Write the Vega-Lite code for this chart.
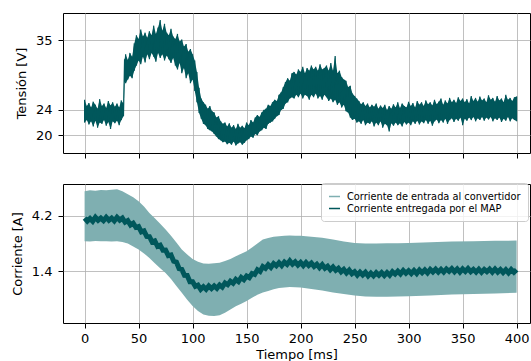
{
"$schema": "https://vega.github.io/schema/vega-lite/v6.json",
"padding": {"left": 10, "top": 12, "right": 0, "bottom": 0},
"spacing": 24,
"config": {
  "font": "DejaVu Sans",
  "view": {"stroke": "black", "strokeWidth": 1},
  "axis": {"grid": true, "gridColor": "#b0b0b0", "gridWidth": 0.8, "domain": false, "tickColor": "black", "tickSize": 5, "tickWidth": 1, "labelFontSize": 13, "titleFontSize": 13, "titleFontWeight": "normal", "labelColor": "black", "titleColor": "black", "labelFont": "DejaVu Sans", "titleFont": "DejaVu Sans"},
  "axisY": {"labelPadding": 6, "titlePadding": 7},
  "axisX": {"labelPadding": 4, "titlePadding": 3}
},
"datasets": {
  "v": [
    {"t":0,"hi":25.6,"lo":22.0},{"t":2,"hi":24.6,"lo":22.4},{"t":4,"hi":25.1,"lo":21.7},{"t":6,"hi":24.4,"lo":22.2},{"t":8,"hi":25.3,"lo":21.4},{"t":10,"hi":24.8,"lo":22.3},{"t":12,"hi":24.2,"lo":21.2},{"t":14,"hi":25.7,"lo":22.0},{"t":16,"hi":24.6,"lo":21.8},{"t":18,"hi":25.0,"lo":22.4},{"t":20,"hi":24.3,"lo":21.5},{"t":22,"hi":25.4,"lo":22.1},{"t":24,"hi":24.7,"lo":21.0},{"t":26,"hi":25.2,"lo":22.2},{"t":28,"hi":24.5,"lo":21.9},{"t":30,"hi":25.0,"lo":22.3},{"t":32,"hi":24.4,"lo":21.6},{"t":34,"hi":25.5,"lo":22.4},{"t":36,"hi":25.0,"lo":23.0},{"t":37,"hi":32.0,"lo":28.5},{"t":38,"hi":32.8,"lo":28.2},{"t":40,"hi":31.9,"lo":28.8},{"t":42,"hi":33.0,"lo":29.4},{"t":44,"hi":32.4,"lo":29.0},{"t":46,"hi":34.5,"lo":30.2},{"t":48,"hi":35.8,"lo":31.0},{"t":50,"hi":35.2,"lo":31.8},{"t":52,"hi":36.7,"lo":31.2},{"t":54,"hi":35.6,"lo":32.4},{"t":56,"hi":36.2,"lo":31.5},{"t":58,"hi":35.4,"lo":32.8},{"t":60,"hi":36.4,"lo":32.0},{"t":62,"hi":35.8,"lo":33.0},{"t":64,"hi":37.3,"lo":32.4},{"t":66,"hi":36.0,"lo":31.6},{"t":68,"hi":37.0,"lo":33.0},{"t":70,"hi":38.2,"lo":32.2},{"t":72,"hi":36.5,"lo":32.8},{"t":74,"hi":37.6,"lo":31.8},{"t":76,"hi":36.2,"lo":32.6},{"t":78,"hi":35.8,"lo":32.0},{"t":80,"hi":36.8,"lo":31.4},{"t":82,"hi":35.6,"lo":32.2},{"t":84,"hi":35.2,"lo":31.0},{"t":86,"hi":36.0,"lo":30.4},{"t":88,"hi":34.8,"lo":31.4},{"t":90,"hi":35.1,"lo":29.8},{"t":92,"hi":34.0,"lo":30.6},{"t":94,"hi":34.4,"lo":29.0},{"t":96,"hi":33.2,"lo":29.8},{"t":98,"hi":33.6,"lo":28.2},{"t":100,"hi":32.8,"lo":28.8},{"t":102,"hi":31.8,"lo":27.0},{"t":104,"hi":30.0,"lo":25.2},{"t":106,"hi":27.5,"lo":23.5},{"t":108,"hi":25.8,"lo":22.6},{"t":110,"hi":25.2,"lo":21.8},{"t":112,"hi":24.8,"lo":21.6},{"t":114,"hi":24.2,"lo":21.0},{"t":116,"hi":24.6,"lo":20.8},{"t":118,"hi":23.8,"lo":20.6},{"t":120,"hi":23.6,"lo":20.2},{"t":122,"hi":22.8,"lo":19.8},{"t":124,"hi":23.0,"lo":19.4},{"t":126,"hi":22.2,"lo":19.2},{"t":128,"hi":21.8,"lo":18.9},{"t":130,"hi":22.0,"lo":19.0},{"t":132,"hi":21.4,"lo":18.6},{"t":134,"hi":21.9,"lo":18.8},{"t":136,"hi":21.2,"lo":18.5},{"t":138,"hi":21.6,"lo":19.0},{"t":140,"hi":21.0,"lo":18.4},{"t":142,"hi":21.8,"lo":18.7},{"t":144,"hi":21.2,"lo":18.9},{"t":146,"hi":21.5,"lo":18.5},{"t":148,"hi":21.1,"lo":18.8},{"t":150,"hi":22.0,"lo":19.2},{"t":152,"hi":21.6,"lo":19.4},{"t":154,"hi":22.4,"lo":19.8},{"t":156,"hi":22.0,"lo":19.6},{"t":158,"hi":22.8,"lo":20.2},{"t":160,"hi":23.2,"lo":20.0},{"t":162,"hi":22.9,"lo":20.6},{"t":164,"hi":23.6,"lo":20.8},{"t":166,"hi":24.0,"lo":21.2},{"t":168,"hi":24.2,"lo":21.0},{"t":170,"hi":24.8,"lo":21.8},{"t":172,"hi":24.6,"lo":22.0},{"t":174,"hi":25.2,"lo":22.2},{"t":176,"hi":25.6,"lo":22.6},{"t":178,"hi":25.4,"lo":23.0},{"t":180,"hi":26.4,"lo":23.2},{"t":182,"hi":26.8,"lo":24.0},{"t":184,"hi":27.6,"lo":24.2},{"t":186,"hi":28.4,"lo":25.0},{"t":188,"hi":29.0,"lo":25.2},{"t":190,"hi":28.6,"lo":25.8},{"t":192,"hi":29.8,"lo":26.0},{"t":194,"hi":30.0,"lo":25.8},{"t":196,"hi":29.6,"lo":26.4},{"t":198,"hi":30.4,"lo":26.0},{"t":200,"hi":30.0,"lo":26.6},{"t":202,"hi":30.8,"lo":25.8},{"t":204,"hi":29.8,"lo":26.4},{"t":206,"hi":30.6,"lo":26.2},{"t":208,"hi":30.2,"lo":25.6},{"t":210,"hi":31.0,"lo":26.4},{"t":212,"hi":30.4,"lo":26.0},{"t":214,"hi":30.8,"lo":26.6},{"t":216,"hi":30.2,"lo":25.8},{"t":218,"hi":31.2,"lo":26.2},{"t":220,"hi":30.4,"lo":25.6},{"t":222,"hi":30.6,"lo":26.4},{"t":224,"hi":31.0,"lo":26.0},{"t":226,"hi":30.2,"lo":25.4},{"t":228,"hi":31.4,"lo":25.8},{"t":230,"hi":30.2,"lo":25.2},{"t":232,"hi":32.5,"lo":25.6},{"t":234,"hi":29.8,"lo":24.8},{"t":236,"hi":30.2,"lo":25.2},{"t":238,"hi":29.2,"lo":24.4},{"t":240,"hi":28.8,"lo":24.8},{"t":242,"hi":28.6,"lo":23.8},{"t":244,"hi":27.6,"lo":23.6},{"t":246,"hi":27.8,"lo":22.8},{"t":248,"hi":26.6,"lo":22.4},{"t":250,"hi":26.2,"lo":22.6},{"t":252,"hi":25.8,"lo":22.0},{"t":254,"hi":25.4,"lo":22.2},{"t":256,"hi":24.9,"lo":21.8},{"t":258,"hi":25.2,"lo":22.4},{"t":260,"hi":24.6,"lo":21.6},{"t":262,"hi":25.0,"lo":22.0},{"t":264,"hi":24.4,"lo":21.8},{"t":266,"hi":24.8,"lo":22.2},{"t":268,"hi":24.5,"lo":21.4},{"t":270,"hi":25.0,"lo":22.0},{"t":272,"hi":24.2,"lo":21.6},{"t":274,"hi":24.7,"lo":22.2},{"t":276,"hi":24.3,"lo":21.2},{"t":278,"hi":24.8,"lo":21.8},{"t":280,"hi":24.0,"lo":21.6},{"t":282,"hi":24.6,"lo":20.6},{"t":284,"hi":24.2,"lo":21.9},{"t":286,"hi":24.9,"lo":21.5},{"t":288,"hi":24.4,"lo":22.0},{"t":290,"hi":25.2,"lo":21.6},{"t":292,"hi":24.3,"lo":21.9},{"t":294,"hi":25.0,"lo":21.4},{"t":296,"hi":24.6,"lo":22.1},{"t":298,"hi":24.4,"lo":21.7},{"t":300,"hi":25.3,"lo":22.0},{"t":302,"hi":24.6,"lo":21.6},{"t":304,"hi":25.1,"lo":22.2},{"t":306,"hi":24.4,"lo":21.8},{"t":308,"hi":25.4,"lo":22.3},{"t":310,"hi":24.8,"lo":21.7},{"t":312,"hi":25.2,"lo":22.2},{"t":314,"hi":24.6,"lo":21.9},{"t":316,"hi":25.5,"lo":22.4},{"t":318,"hi":24.9,"lo":21.8},{"t":320,"hi":25.2,"lo":22.3},{"t":322,"hi":24.7,"lo":21.5},{"t":324,"hi":25.6,"lo":22.2},{"t":326,"hi":24.9,"lo":22.5},{"t":328,"hi":25.3,"lo":21.9},{"t":330,"hi":25.8,"lo":22.4},{"t":332,"hi":24.8,"lo":22.0},{"t":334,"hi":25.5,"lo":22.6},{"t":336,"hi":25.0,"lo":21.8},{"t":338,"hi":25.9,"lo":22.4},{"t":340,"hi":25.2,"lo":22.7},{"t":342,"hi":25.6,"lo":22.1},{"t":344,"hi":25.1,"lo":22.6},{"t":346,"hi":26.0,"lo":22.3},{"t":348,"hi":25.4,"lo":22.8},{"t":350,"hi":25.8,"lo":21.6},{"t":352,"hi":25.2,"lo":22.6},{"t":354,"hi":25.7,"lo":22.3},{"t":356,"hi":25.0,"lo":22.8},{"t":358,"hi":26.2,"lo":22.4},{"t":360,"hi":25.4,"lo":22.9},{"t":362,"hi":25.9,"lo":22.2},{"t":364,"hi":25.3,"lo":22.7},{"t":366,"hi":26.1,"lo":22.4},{"t":368,"hi":25.5,"lo":22.9},{"t":370,"hi":25.8,"lo":22.3},{"t":372,"hi":25.2,"lo":22.8},{"t":374,"hi":26.3,"lo":22.5},{"t":376,"hi":25.6,"lo":22.9},{"t":378,"hi":25.9,"lo":22.2},{"t":380,"hi":25.3,"lo":22.7},{"t":382,"hi":26.2,"lo":22.4},{"t":384,"hi":25.5,"lo":22.8},{"t":386,"hi":25.8,"lo":22.1},{"t":388,"hi":25.2,"lo":22.6},{"t":390,"hi":26.4,"lo":22.3},{"t":392,"hi":25.6,"lo":22.9},{"t":394,"hi":25.9,"lo":22.2},{"t":396,"hi":25.4,"lo":22.7},{"t":398,"hi":26.0,"lo":22.4},{"t":400,"hi":26.1,"lo":22.2}
  ],
  "band": [
    {"t":0,"top":5.45,"bot":2.92},{"t":5,"top":5.50,"bot":2.90},{"t":10,"top":5.48,"bot":2.93},{"t":15,"top":5.52,"bot":2.91},{"t":20,"top":5.50,"bot":2.92},{"t":25,"top":5.53,"bot":2.90},{"t":30,"top":5.55,"bot":2.92},{"t":35,"top":5.45,"bot":2.88},{"t":40,"top":5.30,"bot":2.80},{"t":45,"top":5.15,"bot":2.65},{"t":50,"top":4.94,"bot":2.50},{"t":55,"top":4.68,"bot":2.30},{"t":60,"top":4.35,"bot":2.07},{"t":65,"top":4.08,"bot":1.80},{"t":70,"top":3.80,"bot":1.55},{"t":75,"top":3.51,"bot":1.31},{"t":80,"top":3.20,"bot":1.00},{"t":85,"top":2.85,"bot":0.65},{"t":90,"top":2.50,"bot":0.30},{"t":95,"top":2.25,"bot":-0.05},{"t":100,"top":2.02,"bot":-0.37},{"t":105,"top":1.88,"bot":-0.62},{"t":110,"top":1.79,"bot":-0.80},{"t":115,"top":1.78,"bot":-0.86},{"t":120,"top":1.80,"bot":-0.88},{"t":125,"top":1.82,"bot":-0.84},{"t":130,"top":1.92,"bot":-0.71},{"t":135,"top":2.02,"bot":-0.55},{"t":140,"top":2.16,"bot":-0.38},{"t":145,"top":2.28,"bot":-0.25},{"t":150,"top":2.41,"bot":-0.12},{"t":155,"top":2.60,"bot":0.05},{"t":160,"top":2.80,"bot":0.20},{"t":165,"top":3.00,"bot":0.32},{"t":170,"top":3.08,"bot":0.39},{"t":175,"top":3.14,"bot":0.48},{"t":180,"top":3.17,"bot":0.54},{"t":185,"top":3.20,"bot":0.57},{"t":190,"top":3.21,"bot":0.59},{"t":195,"top":3.20,"bot":0.58},{"t":200,"top":3.20,"bot":0.57},{"t":210,"top":3.15,"bot":0.50},{"t":220,"top":3.09,"bot":0.42},{"t":230,"top":3.00,"bot":0.32},{"t":240,"top":2.90,"bot":0.24},{"t":250,"top":2.83,"bot":0.17},{"t":260,"top":2.80,"bot":0.12},{"t":270,"top":2.80,"bot":0.10},{"t":280,"top":2.81,"bot":0.10},{"t":290,"top":2.82,"bot":0.12},{"t":300,"top":2.83,"bot":0.13},{"t":320,"top":2.86,"bot":0.17},{"t":340,"top":2.90,"bot":0.21},{"t":360,"top":2.92,"bot":0.24},{"t":380,"top":2.94,"bot":0.27},{"t":400,"top":2.95,"bot":0.30}
  ],
  "map": [
    {"t":0,"i":4.09},{"t":2.5,"i":3.94},{"t":5,"i":4.07},{"t":7.5,"i":3.93},{"t":10,"i":4.13},{"t":12.5,"i":3.98},{"t":15,"i":4.09},{"t":17.5,"i":3.96},{"t":20,"i":4.13},{"t":22.5,"i":3.98},{"t":25,"i":4.09},{"t":27.5,"i":3.95},{"t":30,"i":4.13},{"t":32.5,"i":3.99},{"t":35,"i":4.09},{"t":37.5,"i":3.88},{"t":40,"i":3.96},{"t":42.5,"i":3.74},{"t":45,"i":3.83},{"t":47.5,"i":3.62},{"t":50,"i":3.66},{"t":52.5,"i":3.39},{"t":55,"i":3.44},{"t":57.5,"i":3.16},{"t":60,"i":3.15},{"t":62.5,"i":2.88},{"t":65,"i":2.93},{"t":67.5,"i":2.66},{"t":70,"i":2.72},{"t":72.5,"i":2.46},{"t":75,"i":2.47},{"t":77.5,"i":2.19},{"t":80,"i":2.22},{"t":82.5,"i":1.90},{"t":85,"i":1.86},{"t":87.5,"i":1.53},{"t":90,"i":1.49},{"t":92.5,"i":1.19},{"t":95,"i":1.18},{"t":97.5,"i":0.86},{"t":100,"i":0.86},{"t":102.5,"i":0.63},{"t":105,"i":0.69},{"t":107.5,"i":0.48},{"t":110,"i":0.61},{"t":112.5,"i":0.48},{"t":115,"i":0.65},{"t":117.5,"i":0.52},{"t":120,"i":0.65},{"t":122.5,"i":0.53},{"t":125,"i":0.70},{"t":127.5,"i":0.59},{"t":130,"i":0.80},{"t":132.5,"i":0.71},{"t":135,"i":0.89},{"t":137.5,"i":0.79},{"t":140,"i":0.98},{"t":142.5,"i":0.87},{"t":145,"i":1.08},{"t":147.5,"i":0.97},{"t":150,"i":1.15},{"t":152.5,"i":1.07},{"t":155,"i":1.28},{"t":157.5,"i":1.23},{"t":160,"i":1.47},{"t":162.5,"i":1.38},{"t":165,"i":1.63},{"t":167.5,"i":1.54},{"t":170,"i":1.72},{"t":172.5,"i":1.59},{"t":175,"i":1.78},{"t":177.5,"i":1.67},{"t":180,"i":1.83},{"t":182.5,"i":1.68},{"t":185,"i":1.86},{"t":187.5,"i":1.74},{"t":190,"i":1.92},{"t":192.5,"i":1.75},{"t":195,"i":1.87},{"t":197.5,"i":1.71},{"t":200,"i":1.84},{"t":202.5,"i":1.68},{"t":205,"i":1.84},{"t":207.5,"i":1.69},{"t":210,"i":1.81},{"t":212.5,"i":1.64},{"t":215,"i":1.75},{"t":217.5,"i":1.58},{"t":220,"i":1.73},{"t":222.5,"i":1.55},{"t":225,"i":1.65},{"t":227.5,"i":1.47},{"t":230,"i":1.61},{"t":232.5,"i":1.44},{"t":235,"i":1.55},{"t":237.5,"i":1.37},{"t":240,"i":1.49},{"t":242.5,"i":1.31},{"t":245,"i":1.45},{"t":247.5,"i":1.27},{"t":250,"i":1.37},{"t":252.5,"i":1.20},{"t":255,"i":1.35},{"t":257.5,"i":1.21},{"t":260,"i":1.34},{"t":262.5,"i":1.16},{"t":265,"i":1.30},{"t":267.5,"i":1.16},{"t":270,"i":1.32},{"t":272.5,"i":1.19},{"t":275,"i":1.33},{"t":277.5,"i":1.18},{"t":280,"i":1.33},{"t":282.5,"i":1.19},{"t":285,"i":1.37},{"t":287.5,"i":1.25},{"t":290,"i":1.40},{"t":292.5,"i":1.26},{"t":295,"i":1.43},{"t":297.5,"i":1.29},{"t":300,"i":1.42},{"t":302.5,"i":1.28},{"t":305,"i":1.43},{"t":307.5,"i":1.28},{"t":310,"i":1.46},{"t":312.5,"i":1.32},{"t":315,"i":1.46},{"t":317.5,"i":1.31},{"t":320,"i":1.49},{"t":322.5,"i":1.36},{"t":325,"i":1.50},{"t":327.5,"i":1.35},{"t":330,"i":1.49},{"t":332.5,"i":1.35},{"t":335,"i":1.51},{"t":337.5,"i":1.39},{"t":340,"i":1.53},{"t":342.5,"i":1.37},{"t":345,"i":1.51},{"t":347.5,"i":1.35},{"t":350,"i":1.51},{"t":352.5,"i":1.38},{"t":355,"i":1.53},{"t":357.5,"i":1.37},{"t":360,"i":1.49},{"t":362.5,"i":1.35},{"t":365,"i":1.50},{"t":367.5,"i":1.34},{"t":370,"i":1.49},{"t":372.5,"i":1.37},{"t":375,"i":1.50},{"t":377.5,"i":1.35},{"t":380,"i":1.51},{"t":382.5,"i":1.35},{"t":385,"i":1.48},{"t":387.5,"i":1.33},{"t":390,"i":1.47},{"t":392.5,"i":1.31},{"t":395,"i":1.48},{"t":397.5,"i":1.34},{"t":400,"i":1.47}
  ]
},
"vconcat": [
  {
    "width": 467, "height": 140,
    "data": {"name": "v"},
    "layer": [
      {
        "mark": {"type": "area", "color": "#00575b", "opacity": 1},
        "encoding": {
          "x": {"field": "t", "type": "quantitative", "scale": {"domain": [-20, 412.4], "nice": false, "zero": false}, "axis": {"values": [0,50,100,150,200,250,300,350,400], "labels": false, "title": null}},
          "y": {"field": "hi", "type": "quantitative", "scale": {"domain": [17.2, 39.3], "nice": false, "zero": false}, "axis": {"values": [20,24,35], "title": "Tensión [V]"}},
          "y2": {"field": "lo"}
        }
      },
      {
        "transform": [{"fold": ["hi", "lo"], "as": ["edge", "volt"]}],
        "mark": {"type": "line", "color": "#00575b", "strokeWidth": 1.2},
        "encoding": {
          "x": {"field": "t", "type": "quantitative"},
          "y": {"field": "volt", "type": "quantitative"}
        }
      }
    ]
  },
  {
    "width": 467, "height": 139,
    "layer": [
      {
        "data": {"name": "band"},
        "mark": {"type": "area", "color": "#7fafb1"},
        "encoding": {
          "x": {"field": "t", "type": "quantitative", "scale": {"domain": [-20, 412.4], "nice": false, "zero": false}, "axis": {"values": [0,50,100,150,200,250,300,350,400], "title": "Tiempo [ms]"}},
          "y": {"field": "top", "type": "quantitative", "scale": {"domain": [-1.23, 5.82], "nice": false, "zero": false}, "axis": {"values": [1.4, 4.2], "format": ".1f", "title": "Corriente [A]"}},
          "y2": {"field": "bot"}
        }
      },
      {
        "data": {"name": "map"},
        "mark": {"type": "line", "strokeWidth": 5, "strokeJoin": "miter"},
        "encoding": {
          "x": {"field": "t", "type": "quantitative"},
          "y": {"field": "i", "type": "quantitative"},
          "color": {"datum": "Corriente entregada por el MAP", "type": "nominal",
            "scale": {"domain": ["Corriente de entrada al convertidor", "Corriente entregada por el MAP"], "range": ["#7fafb1", "#00575b"]},
            "legend": {"title": null, "orient": "none", "legendX": 258, "legendY": 170, "symbolType": "stroke", "symbolSize": 121, "symbolStrokeWidth": 1.5, "labelFontSize": 9.8, "labelLimit": 400, "labelFont": "DejaVu Sans", "labelColor": "black", "labelOffset": 6, "rowPadding": -2, "padding": 7, "fillColor": "rgba(255,255,255,0.8)", "strokeColor": "#cccccc", "cornerRadius": 3}
          }
        }
      }
    ]
  }
]
}
